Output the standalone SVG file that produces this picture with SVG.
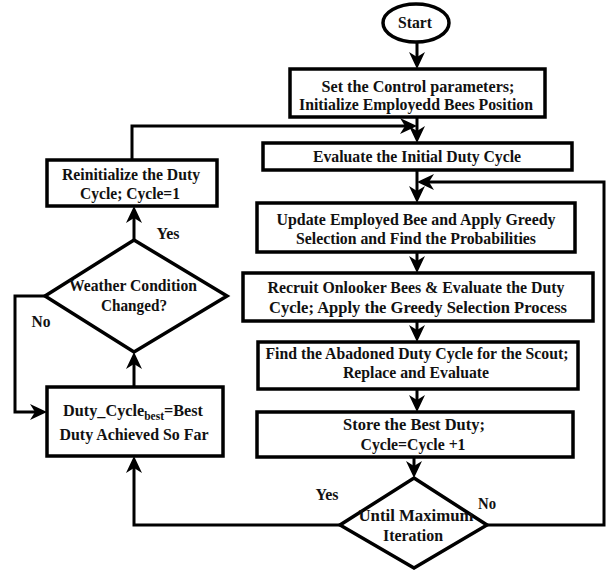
<svg xmlns="http://www.w3.org/2000/svg" width="606" height="570" viewBox="0 0 606 570">
  <style>
    .box { fill: #ffffff; stroke: #000000; stroke-width: 3.5; }
    .wire { fill: none; stroke: #000000; stroke-width: 3; }
    text { font-family: "Liberation Serif", "Times New Roman", serif; font-weight: bold; font-size: 17px; fill: #111111; text-anchor: middle; }
  </style>
  <defs>
    <marker id="arrow" viewBox="0 0 17 16" refX="11" refY="8" markerWidth="17" markerHeight="16" markerUnits="userSpaceOnUse" orient="auto">
      <path d="M0,0 L17,8 L0,16 L5,8 Z" fill="#000000"/>
    </marker>
  </defs>

  <!-- connectors -->
  <g id="connectors">
    <path class="wire" d="M417,42 L417,63" marker-end="url(#arrow)"/>
    <path class="wire" d="M417,117 L417,137" marker-end="url(#arrow)"/>
    <path class="wire" d="M132,160 L132,126 L411,126" marker-end="url(#arrow)"/>
    <path class="wire" d="M417,170 L417,197" marker-end="url(#arrow)"/>
    <path class="wire" d="M487,525 L604,525 L604,182 L423,182" marker-end="url(#arrow)"/>
    <path class="wire" d="M417,252 L417,267" marker-end="url(#arrow)"/>
    <path class="wire" d="M417,321 L417,336" marker-end="url(#arrow)"/>
    <path class="wire" d="M417,389 L417,406" marker-end="url(#arrow)"/>
    <path class="wire" d="M414,457 L414,472" marker-end="url(#arrow)"/>
    <path class="wire" d="M340,525 L134,525 L134,462" marker-end="url(#arrow)"/>
    <path class="wire" d="M134,387 L134,358" marker-end="url(#arrow)"/>
    <path class="wire" d="M45,296 L15,296 L15,412 L41,412" marker-end="url(#arrow)"/>
    <path class="wire" d="M134,240 L134,212" marker-end="url(#arrow)"/>
  </g>

  <g id="start">
    <ellipse class="box" cx="416" cy="23" rx="33" ry="19"/>
    <text x="415" y="28" textLength="34" lengthAdjust="spacingAndGlyphs">Start</text>
  </g>

  <g id="init-params">
    <rect class="box" x="290" y="69" width="255" height="48"/>
    <text x="418" y="92" textLength="193" lengthAdjust="spacingAndGlyphs">Set the Control parameters;</text>
    <text x="416" y="110" textLength="234" lengthAdjust="spacingAndGlyphs">Initialize Employedd Bees Position</text>
  </g>

  <g id="evaluate-initial">
    <rect class="box" x="263" y="143" width="309" height="27"/>
    <text x="417" y="162" textLength="208" lengthAdjust="spacingAndGlyphs">Evaluate the Initial Duty Cycle</text>
  </g>

  <g id="employed-bee">
    <rect class="box" x="257" y="203" width="318" height="49"/>
    <text x="416" y="225" textLength="279" lengthAdjust="spacingAndGlyphs">Update Employed Bee and Apply Greedy</text>
    <text x="416" y="244" textLength="240" lengthAdjust="spacingAndGlyphs">Selection and Find the Probabilities</text>
  </g>

  <g id="onlooker-bees">
    <rect class="box" x="243" y="273" width="350" height="48"/>
    <text x="416" y="293" textLength="297" lengthAdjust="spacingAndGlyphs">Recruit Onlooker Bees &amp; Evaluate the Duty</text>
    <text x="418" y="313" textLength="298" lengthAdjust="spacingAndGlyphs">Cycle; Apply the Greedy Selection Process</text>
  </g>

  <g id="scout">
    <rect class="box" x="258" y="342" width="320" height="47"/>
    <text x="417" y="359" textLength="303" lengthAdjust="spacingAndGlyphs">Find the Abadoned Duty Cycle for the Scout;</text>
    <text x="416" y="378" textLength="146" lengthAdjust="spacingAndGlyphs">Replace and Evaluate</text>
  </g>

  <g id="store-best">
    <rect class="box" x="257" y="412" width="316" height="45"/>
    <text x="414" y="430" textLength="142" lengthAdjust="spacingAndGlyphs">Store the Best Duty;</text>
    <text x="413" y="450" textLength="105" lengthAdjust="spacingAndGlyphs">Cycle=Cycle +1</text>
  </g>

  <g id="max-iteration">
    <polygon class="box" points="414,478 487,525 414,568 340,525"/>
    <text x="416" y="521" textLength="115" lengthAdjust="spacingAndGlyphs">Until Maximum</text>
    <text x="413" y="541" textLength="60" lengthAdjust="spacingAndGlyphs">Iteration</text>
    <text x="327" y="500" textLength="23" lengthAdjust="spacingAndGlyphs">Yes</text>
    <text x="487" y="509" textLength="18" lengthAdjust="spacingAndGlyphs">No</text>
  </g>

  <g id="best-duty">
    <rect class="box" x="47" y="387" width="176" height="69"/>
    <text x="133" y="416" textLength="140" lengthAdjust="spacingAndGlyphs">Duty_Cycle<tspan font-size="12" dy="4">best</tspan><tspan dy="-4">=Best</tspan></text>
    <text x="134" y="440" textLength="149" lengthAdjust="spacingAndGlyphs">Duty Achieved So Far</text>
  </g>

  <g id="weather-check">
    <polygon class="box" points="134,240 227,296 134,352 45,296"/>
    <text x="133" y="291" textLength="128" lengthAdjust="spacingAndGlyphs">Weather Condition</text>
    <text x="134" y="311" textLength="66" lengthAdjust="spacingAndGlyphs">Changed?</text>
    <text x="41" y="327" textLength="19" lengthAdjust="spacingAndGlyphs">No</text>
    <text x="168" y="239" textLength="23" lengthAdjust="spacingAndGlyphs">Yes</text>
  </g>

  <g id="reinitialize">
    <rect class="box" x="47" y="160" width="170" height="46"/>
    <text x="131" y="180" textLength="138" lengthAdjust="spacingAndGlyphs">Reinitialize the Duty</text>
    <text x="130" y="199" textLength="100" lengthAdjust="spacingAndGlyphs">Cycle; Cycle=1</text>
  </g>
</svg>
